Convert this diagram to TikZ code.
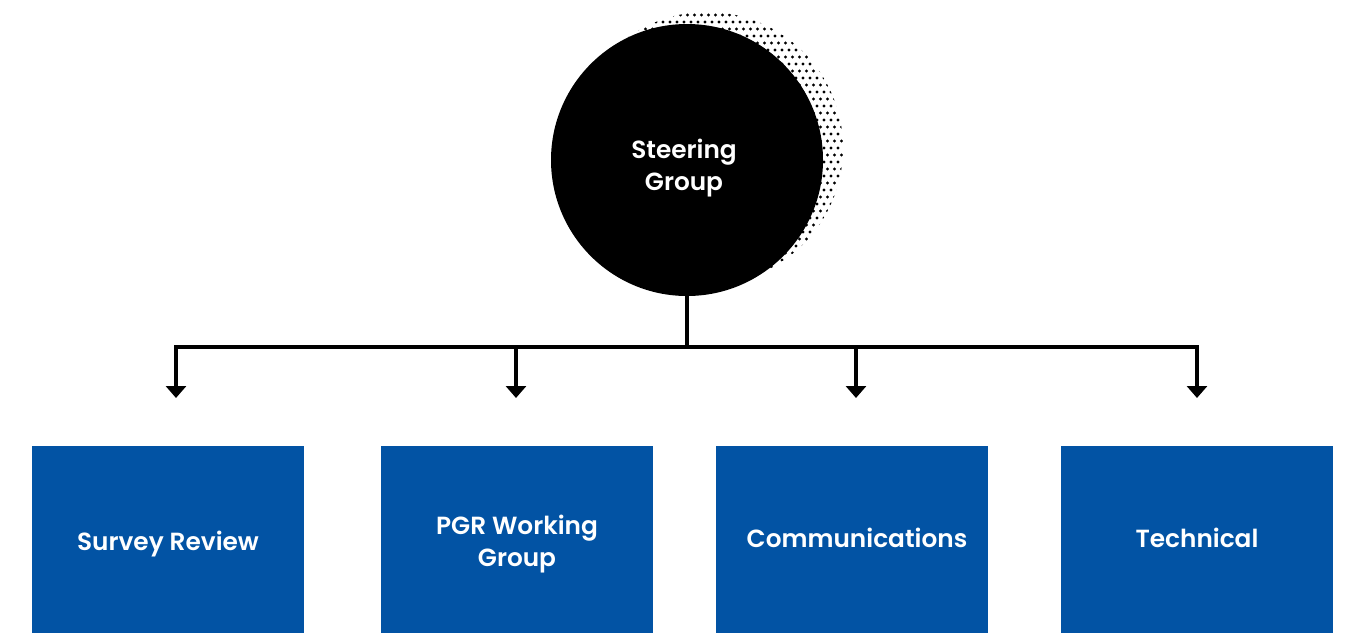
\documentclass[tikz,border=0pt]{standalone}
\usepackage{fontspec}
\setmainfont{Poppins}[BoldFont={Poppins SemiBold}]
\usetikzlibrary{arrows.meta}
\definecolor{boxblue}{RGB}{2,83,164}
\tikzset{
  orgbox/.style={rectangle, fill=boxblue, minimum width=272*0.75pt, minimum height=187*0.75pt, inner sep=0pt},
  boxtext/.style={text=white, font=\bfseries\fontsize{18.6}{23.5}\selectfont, align=center, inner sep=0pt},
  link/.style={line width=3pt, draw=black},
  arr/.style={link, -{Triangle[width=15pt,length=9pt]}}
}
\begin{document}
\begin{tikzpicture}[x=0.75pt,y=-0.75pt]
\useasboundingbox (0,0) rectangle (1354,633);
% dotted shadow
\begin{scope}
  \clip (707,148) circle (136);
  \foreach \i in {0,...,42}{
    \foreach \j in {0,...,42}{
      \fill ({565+\i*7+mod(\j,2)*3.5},{8+\j*7}) circle (1.6);
    }
  }
\end{scope}
\node[circle, fill=black, minimum size=272*0.75pt, inner sep=0pt] (steer) at (687,160) {};
\node[boxtext] (steertxt) at (684,168) {Steering\\Group};
\coordinate (junc) at (687,347);
\coordinate (d1) at (176,347);
\coordinate (d2) at (516,347);
\coordinate (d3) at (856,347);
\coordinate (d4) at (1197,347);
\coordinate (t1) at (176,398);
\coordinate (t2) at (516,398);
\coordinate (t3) at (856,398);
\coordinate (t4) at (1197,398);
\draw[link] (steer.south) -- (junc);
\draw[link, line cap=rect] (d1) -- (d4);
\draw[arr] (d1) -- (t1);
\draw[arr] (d2) -- (t2);
\draw[arr] (d3) -- (t3);
\draw[arr] (d4) -- (t4);
\node[orgbox] (b1) at (168,539.5) {};
\node[orgbox] (b2) at (517,539.5) {};
\node[orgbox] (b3) at (852,539.5) {};
\node[orgbox] (b4) at (1197,539.5) {};
\node[boxtext] (l1) at (168,544) {Survey Review};
\node[boxtext] (l2) at (517,544) {PGR Working\\Group};
\node[boxtext] (l3) at (857,538) {Communications};
\node[boxtext] (l4) at (1197,538) {Technical};
\end{tikzpicture}
\end{document}
